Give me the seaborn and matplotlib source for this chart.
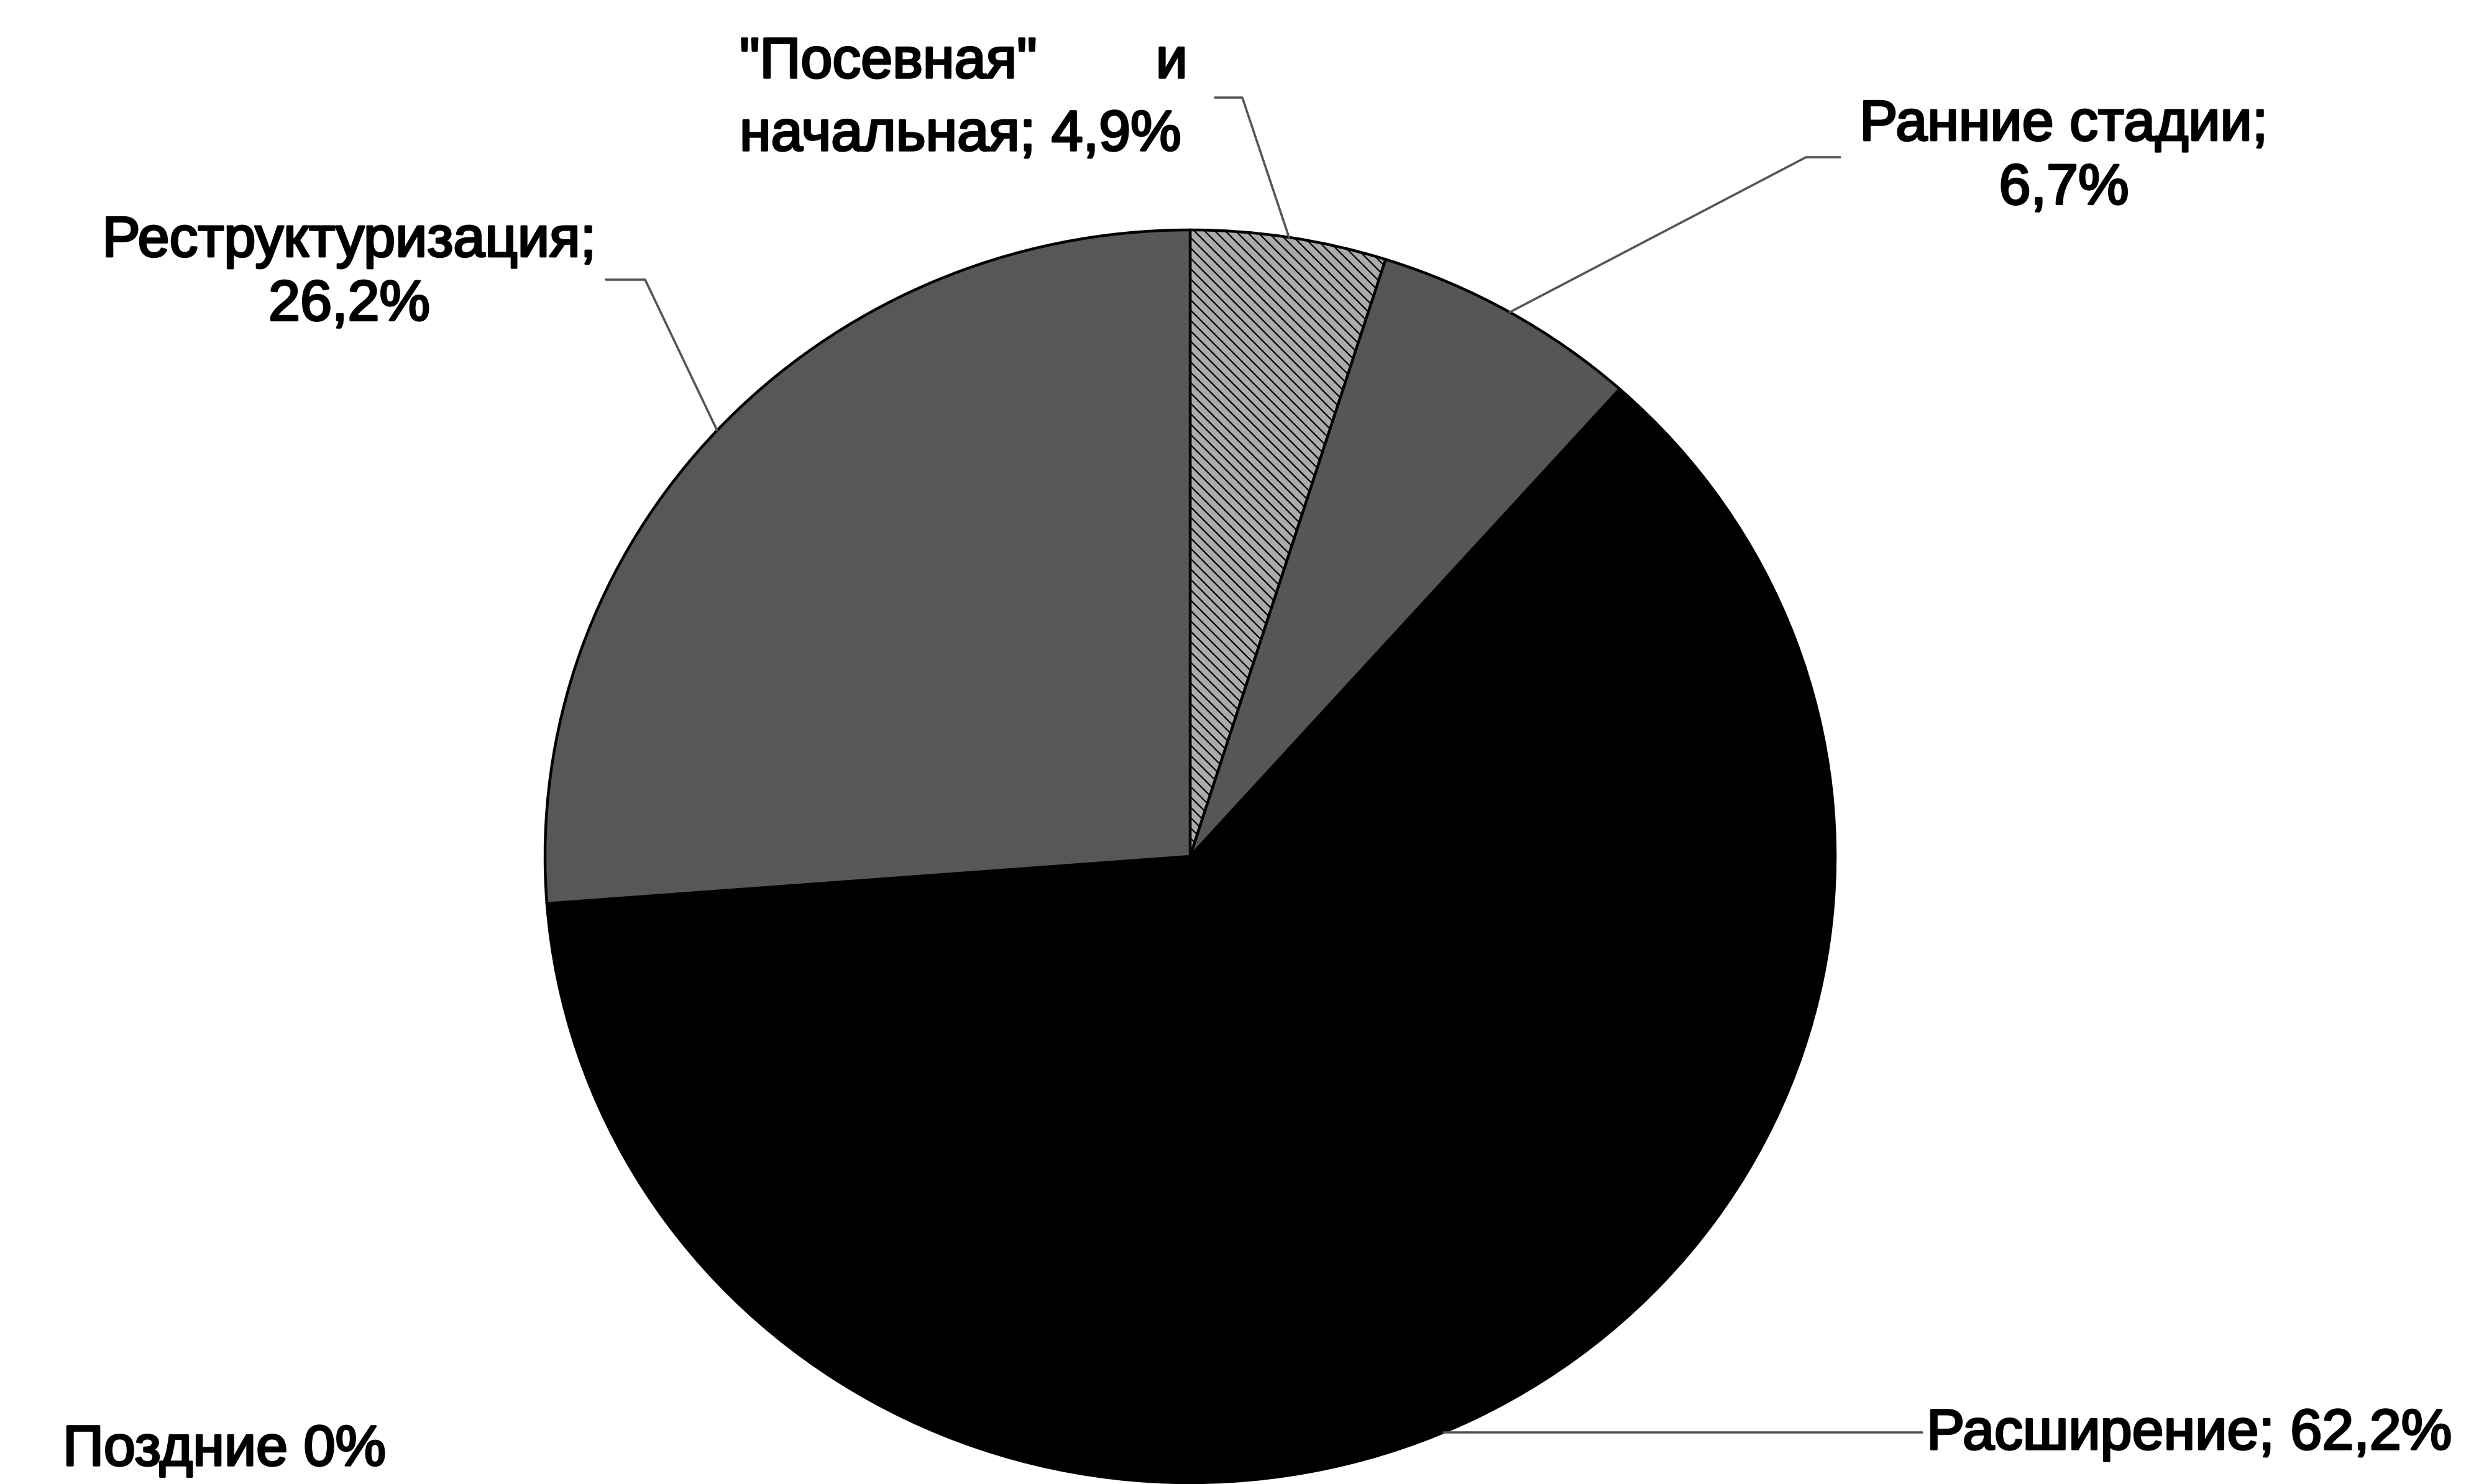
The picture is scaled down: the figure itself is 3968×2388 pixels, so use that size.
import numpy as np
import matplotlib
matplotlib.use("Agg")
import matplotlib.pyplot as plt
import matplotlib.patheffects as pe
import seaborn as sns

# Доли инвестиций по стадиям
categories = ['"Посевная" и начальная', "Ранние стадии", "Расширение", "Поздние", "Реструктуризация"]
shares = [4.9, 6.7, 62.2, 0.0, 26.2]
fill_colors = ["#ababab", "#565656", "#000000", "#808080", "#575757"]

sns.set_theme(style="white")
plt.rcParams["font.family"] = ["Liberation Sans", "DejaVu Sans"]
plt.rcParams["hatch.color"] = "#6a6a6a"
plt.rcParams["hatch.linewidth"] = 1.6

W, H = 3968, 2388
fig = plt.figure(figsize=(W / 100, H / 100), dpi=100)
fig.patch.set_facecolor("white")

# pie centre and radii in pixels
cx, cy, rx, ry = 1915, 1378, 1038, 1008
ax = fig.add_axes([0, 0, 1, 1])

wedges, _ = ax.pie(shares, colors=fill_colors, startangle=90, counterclock=False,
                   radius=1.0, center=(0, 0),
                   wedgeprops=dict(edgecolor="black", linewidth=3.2))
ax.set_aspect("auto")
ax.set_xlim(-cx / rx, (W - cx) / rx)
ax.set_ylim((cy - H) / ry, cy / ry)
ax.axis("off")
wedges[0].set_hatch("\\\\")


def fig_xy(x, y):
    return x / W, 1 - y / H


def edge_point(w):
    mid = np.deg2rad((w.theta1 + w.theta2) / 2)
    return cx + rx * np.cos(mid), cy - ry * np.sin(mid)


fs = 66
thick = [pe.withStroke(linewidth=2.5, foreground="black")]
txt = dict(fontsize=fs, color="black", transform=fig.transFigure, path_effects=thick)

fig.text(*fig_xy(1190, 101), '"Посевная"', ha="left", va="center", **txt)
fig.text(*fig_xy(1911, 101), "и", ha="right", va="center", **txt)
fig.text(*fig_xy(1190, 218), "начальная; " + f"{shares[0]:.1f}%".replace(".", ","),
         ha="left", va="center", **txt)
fig.text(*fig_xy(3321, 253), "Ранние стадии;\n" + f"{shares[1]:.1f}%".replace(".", ","),
         ha="center", va="center", multialignment="center", linespacing=1.25, **txt)
fig.text(*fig_xy(562, 440), "Реструктуризация;\n" + f"{shares[4]:.1f}%".replace(".", ","),
         ha="center", va="center", multialignment="center", linespacing=1.25, **txt)
fig.text(*fig_xy(3100, 2308), "Расширение; " + f"{shares[2]:.1f}%".replace(".", ","),
         ha="left", va="center", **txt)
fig.text(*fig_xy(101, 2334), "Поздние " + f"{shares[3]:.0f}%",
         ha="left", va="center", **txt)

# leader lines: label end -> elbow -> slice edge
leaders = [
    (0, [(1955, 157), (1999, 157)]),
    (1, [(2961, 253), (2906, 253)]),
    (4, [(975, 450), (1038, 450)]),
]
lines = []
for idx, pts in leaders:
    ex, ey = edge_point(wedges[idx])
    lines.append(([p[0] for p in pts] + [ex], [p[1] for p in pts] + [ey]))

# horizontal leader to the large slice, ending on its rim
ly = 2305
lx_edge = cx + rx * np.sqrt(1 - ((ly - cy) / ry) ** 2)
lines.append(([3093, lx_edge], [ly, ly]))

for xs, ys in lines:
    fig.add_artist(plt.Line2D([x / W for x in xs], [1 - y / H for y in ys],
                              transform=fig.transFigure, color="#555555", lw=2.6))

fig.savefig("out.png", dpi=100, facecolor="white")
